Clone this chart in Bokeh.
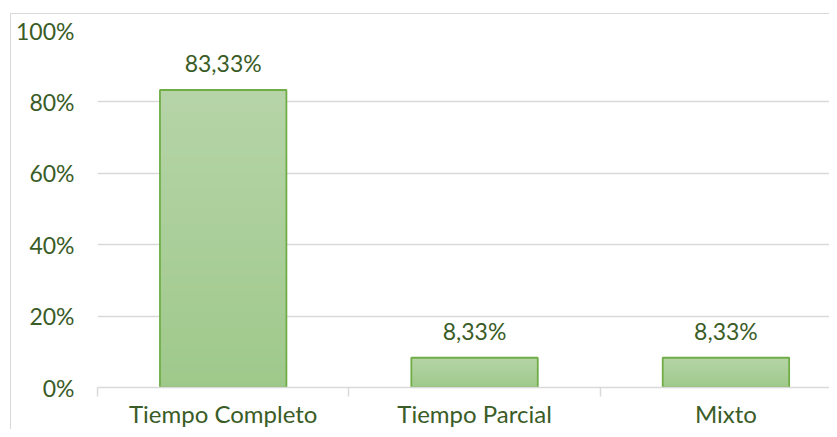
from bokeh.plotting import figure
from bokeh.models import Range1d, FixedTicker, ColumnDataSource
from bokeh.core.properties import value
from bokeh.embed import file_html
from bokeh.resources import INLINE

categories = ["Tiempo Completo", "Tiempo Parcial", "Mixto"]
values = [0.8333, 0.0833, 0.0833]
labels = ["83,33%", "8,33%", "8,33%"]
y_ticks = [0, 0.2, 0.4, 0.6, 0.8, 1.0]
y_tick_labels = ["0%", "20%", "40%", "60%", "80%", "100%"]

FONT = "Lato"
TXT = "#3a5c27"
GRID = "#d9d9d9"

p = figure(width=819, height=416, output_backend="svg", toolbar_location=None,
           x_range=Range1d(0, 2.916), y_range=Range1d(0, 1.0),
           min_border_left=86, min_border_right=0, min_border_top=16, min_border_bottom=41)
p.margin = (13, 0, 0, 10)
p.styles = {"border-top": "1px solid #d9d9d9", "border-left": "1px solid #d9d9d9"}
p.outline_line_color = None
p.background_fill_color = "white"
p.border_fill_color = "white"

xs = [i + 0.5 for i in range(len(categories))]

# gradient bars: overlapping slices, each from a fraction of the value up to the top
N = 40
top_c = (0xb6, 0xd4, 0xa8)
bot_c = (0x9f, 0xc9, 0x8b)
sx, sb, st, sc = [], [], [], []
for x, v in zip(xs, values):
    for k in range(N):
        f0 = k / N
        t = (k + 0.5) / N
        col = tuple(int(round(bot_c[j] + (top_c[j] - bot_c[j]) * t)) for j in range(3))
        sx.append(x)
        sb.append(v * f0)
        st.append(v)
        sc.append("#%02x%02x%02x" % col)
p.vbar(x=sx, bottom=sb, top=st, width=0.503, fill_color=sc, line_color=None)

src = ColumnDataSource(dict(x=xs, top=values, label=labels))
p.vbar(x="x", top="top", width=0.503, source=src, fill_color=None,
       line_color="#70ad47", line_width=1.8)
p.text(x="x", y="top", text="label", source=src, text_align="center",
       text_baseline="middle", y_offset=-27, text_font=value(FONT),
       text_font_size="23px", text_color=TXT)

# axes
p.xgrid.grid_line_color = None
p.ygrid.grid_line_color = GRID
p.ygrid.grid_line_width = 1.3
p.ygrid.ticker = FixedTicker(ticks=y_ticks)

p.yaxis.ticker = FixedTicker(ticks=y_ticks)
p.yaxis.major_label_overrides = {t: l for t, l in zip(y_ticks, y_tick_labels)}
p.yaxis.axis_line_color = None
p.yaxis.major_tick_line_color = None
p.yaxis.minor_tick_line_color = None
p.yaxis.major_label_standoff = 17
p.yaxis.major_label_text_font = FONT
p.yaxis.major_label_text_font_size = "23px"
p.yaxis.major_label_text_color = TXT

p.xaxis.ticker = FixedTicker(ticks=xs, minor_ticks=[0, 1, 2, 3])
p.xaxis.major_label_overrides = {x: c for x, c in zip(xs, categories)}
p.xaxis.axis_line_color = GRID
p.xaxis.axis_line_width = 1.5
p.xaxis.major_tick_line_color = None
p.xaxis.major_tick_out = 0
p.xaxis.major_tick_in = 0
p.xaxis.minor_tick_line_color = GRID
p.xaxis.minor_tick_line_width = 1.5
p.xaxis.minor_tick_out = 9
p.xaxis.minor_tick_in = 0
p.xaxis.major_label_standoff = 2
p.xaxis.major_label_text_font = FONT
p.xaxis.major_label_text_font_size = "24px"
p.xaxis.major_label_text_color = TXT

open("out.html", "w").write(file_html(p, INLINE))
